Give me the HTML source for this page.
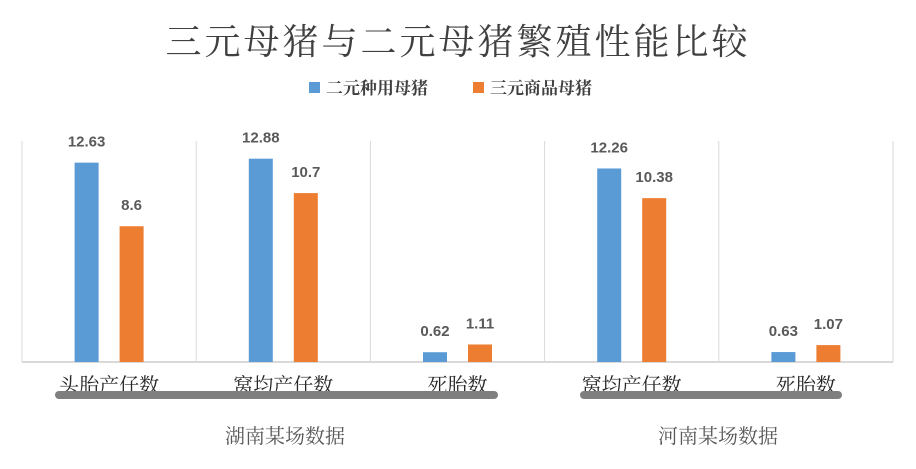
<!DOCTYPE html>
<html><head><meta charset="utf-8"><style>
body{margin:0;background:#fff;width:916px;height:469px;overflow:hidden}
svg{display:block}
.cjk{font-family:"Liberation Serif","Noto Serif CJK SC",serif}
.num{font-family:"Liberation Sans",sans-serif;font-weight:bold;font-size:15px;fill:#595959}
</style></head><body>
<svg id="chart" width="916" height="469">
<text x="458" y="54" text-anchor="middle" class="cjk" font-size="36" fill="#404040" letter-spacing="3">三元母猪与二元母猪繁殖性能比较</text>
<g>
<rect x="309" y="82" width="11" height="11" fill="#5B9BD5"/>
<text x="326" y="94" class="cjk" font-size="17" font-weight="bold" fill="#404040">二元种用母猪</text>
<rect x="473" y="82" width="11" height="11" fill="#ED7D31"/>
<text x="490" y="94" class="cjk" font-size="17" font-weight="bold" fill="#404040">三元商品母猪</text>
</g>
<g id="plot"></g>
<rect x="55" y="391" width="443" height="8" rx="4" fill="#7f7f7f"/>
<rect x="580" y="391" width="262" height="8" rx="4" fill="#7f7f7f"/>
<text x="285" y="443" text-anchor="middle" class="cjk" font-size="20" fill="#595959">湖南某场数据</text>
<text x="718" y="443" text-anchor="middle" class="cjk" font-size="20" fill="#595959">河南某场数据</text>
</svg>
<script>
const categories=["头胎产仔数","窝均产仔数","死胎数","窝均产仔数","死胎数"];
const seriesBlue=[12.63,12.88,0.62,12.26,0.63];
const seriesOrange=[8.6,10.7,1.11,10.38,1.07];
const yMax=14;
const plotLeft=22,plotRight=893,plotTop=141,plotBase=362;
const cw=(plotRight-plotLeft)/categories.length;
const xPos=i=>plotLeft+cw*i;
const yPos=v=>plotBase-(v/yMax)*(plotBase-plotTop);
const ns="http://www.w3.org/2000/svg";
const plotG=document.getElementById('plot');
function mk(t,a){const e=document.createElementNS(ns,t);for(const k in a)e.setAttribute(k,a[k]);plotG.appendChild(e);return e;}
for(let i=0;i<=categories.length;i++){
 const l=mk('line',{x1:xPos(i),x2:xPos(i),y1:plotTop,y2:plotBase,stroke:'#d9d9d9','stroke-width':1});
 
 
}
const ax=mk('line',{x1:plotLeft,x2:plotRight,y1:plotBase,y2:plotBase,stroke:'#d9d9d9','stroke-width':2});


categories.forEach((c,i)=>{
 const cx=xPos(i)+cw/2;
 [[seriesBlue,'#5B9BD5',-22.5,'blue'],[seriesOrange,'#ED7D31',22.5,'orange']].forEach(([s,col,off,nm])=>{
  const v=s[i];
  const r=mk('rect',{x:cx+off-12,y:yPos(v),width:24,height:plotBase-yPos(v),fill:col});
  
  
  const t=mk('text',{x:cx+off,y:yPos(v)-16,'text-anchor':'middle',class:'num'});
  t.textContent=v;
  
  
 });
 const lb=mk('text',{x:cx,y:392,'text-anchor':'middle',class:'cjk','font-size':20,fill:'#262626'});
 lb.textContent=c;
 
 
});
</script>
</body></html>
